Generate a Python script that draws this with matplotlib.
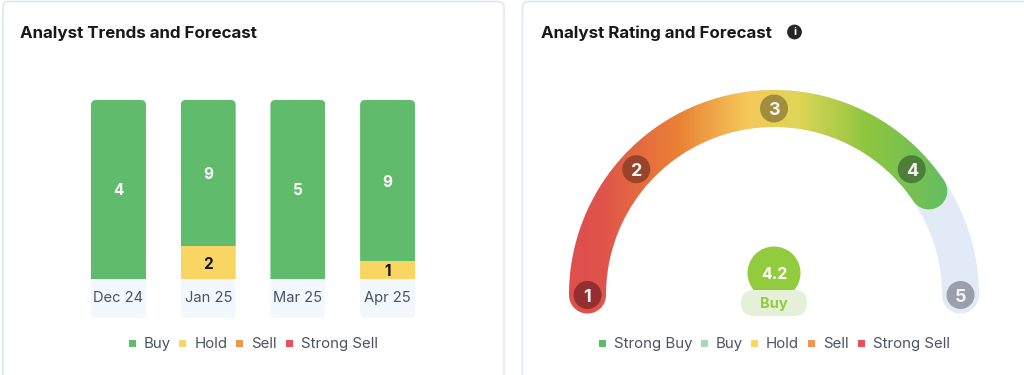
import matplotlib

matplotlib.use("Agg")
import matplotlib.pyplot as plt
import numpy as np
from matplotlib.colors import LinearSegmentedColormap
from matplotlib.patches import Circle, FancyBboxPatch, PathPatch, Rectangle
from matplotlib.path import Path

plt.rcParams["font.family"] = ["Inter", "DejaVu Sans"]

# trends panel
months = ["Dec 24", "Jan 25", "Mar 25", "Apr 25"]
buy = [4, 9, 5, 9]
hold = [0, 2, 0, 1]
trend_legend = ["Buy", "Hold", "Sell", "Strong Sell"]

# gauge panel
rating = 4.2
rating_label = "Buy"
rating_ticks = [1, 2, 3, 4, 5]
tick_angles = [180, 137.6, 90, 42.4, 0]
gauge_legend = ["Strong Buy", "Buy", "Hold", "Sell", "Strong Sell"]

GREEN = "#61bb6d"
YELLOW = "#f8d661"
TEXT = "#4a5263"
TITLE = "#16181d"
LEGEND_COLORS = {
    "Strong Buy": "#61bb6d",
    "Buy": "#a3dcb4",
    "Hold": "#f8d661",
    "Sell": "#f2964f",
    "Strong Sell": "#ec4f5c",
}
TREND_LEGEND_COLORS = ["#61bb6d", "#f8d661", "#f2964f", "#ec4f5c"]
TICK_COLORS = ["#942f2f", "#98432a", "#a28d3d", "#4f7e38", "#9a9fab"]

CX, CY, R, TRACK = 774, 295, 186.5, 18.5


def gauge_angle(v):
    return np.interp(v, rating_ticks, tick_angles)


def polar(r, deg):
    a = np.radians(deg)
    return CX + r * np.cos(a), CY - r * np.sin(a)


def arc_path(a0, a1):
    """Thick arc with round caps, from angle a0 down to a1 (degrees)."""
    n = 200
    ang = np.linspace(a0, a1, n)
    outer = np.column_stack(polar(R + TRACK, ang))
    ca, sa = polar(R, a1)
    cap = np.radians(np.linspace(a1, a1 - 180, 30))
    end = np.column_stack([ca + TRACK * np.cos(cap), sa - TRACK * np.sin(cap)])
    inner = np.column_stack(polar(R - TRACK, ang[::-1]))
    ca, sa = polar(R, a0)
    cap = np.radians(np.linspace(a0 + 180, a0, 30))
    start = np.column_stack([ca + TRACK * np.cos(cap), sa - TRACK * np.sin(cap)])
    return Path(np.vstack([outer, end, inner, start, outer[:1]]))


def gradient_arc(cmap, a_end, x0, x1, y0, y1):
    """RGBA image of the filled arc, alpha from distance so the edge stays smooth."""
    gx, gy = np.meshgrid(np.arange(x0, x1) + 0.5, np.arange(y0, y1) + 0.5)
    dx, dy = gx - CX, CY - gy
    ang = np.degrees(np.arctan2(dy, dx))
    ex0, ey0 = polar(R, 180)
    ex1, ey1 = polar(R, a_end)
    d = np.minimum(np.hypot(gx - ex0, gy - ey0), np.hypot(gx - ex1, gy - ey1))
    on_arc = (ang >= a_end) & (ang <= 180)
    d[on_arc] = np.abs(np.hypot(dx, dy) - R)[on_arc]
    rgba = cmap((gx - x0) / (x1 - x0))
    rgba[..., 3] = np.clip(TRACK + 0.5 - d, 0, 1)
    return rgba


fig = plt.figure(figsize=(10.24, 3.75), dpi=100)
px = fig.add_axes([0, 0, 1, 1])
px.set_xlim(0, 1024)
px.set_ylim(375, 0)
px.axis("off")

# cards run off the bottom and right edge of the crop
for x0, x1 in [(3, 504), (522.5, 1040)]:
    px.add_patch(
        FancyBboxPatch(
            (x0, 1.5),
            x1 - x0,
            380,
            boxstyle="round,pad=0,rounding_size=6",
            fc="white",
            ec="#dde7f5",
            lw=1.2,
        )
    )

px.text(20, 38, "Analyst Trends and Forecast", fontsize=12.2, fontweight="bold",
        color=TITLE, va="baseline")
px.text(541, 38, "Analyst Rating and Forecast", fontsize=12.2, fontweight="bold",
        color=TITLE, va="baseline")
px.add_patch(Circle((794.5, 32), 7.4, fc="#23262b", ec="none"))
px.text(794.5, 32, "i", fontsize=8, fontweight="bold", color="white",
        ha="center", va="center")

# stacked 100% bars, axes run from the bar tops to the bottom of the label boxes
bars_ax = fig.add_axes([73.6 / 1024, 1 - 318 / 375, 359 / 1024, 218 / 375])
bars_ax.patch.set_alpha(0)
x = np.arange(len(months))
bar_w = 0.613
label_h = 21.8
bars_ax.set_xlim(-0.5, 3.5)
bars_ax.set_ylim(-label_h, 100)
for s in bars_ax.spines.values():
    s.set_visible(False)
bars_ax.set_yticks([])
bars_ax.set_xticks(x)
bars_ax.set_xticklabels(months, fontsize=10.6, color=TEXT)
bars_ax.tick_params(axis="x", length=0, pad=-19.7)

total = np.array(buy) + np.array(hold)
hold_pct = np.array(hold) / total * 100
buy_pct = np.array(buy) / total * 100
boxes = bars_ax.bar(x, [label_h] * 4, bar_w, bottom=-label_h, color="#f3f7fe")
hold_bars = bars_ax.bar(x, hold_pct, bar_w, color=YELLOW)
buy_bars = bars_ax.bar(x, buy_pct, bar_w, bottom=hold_pct, color=GREEN)

for i in x:
    xc = 118.5 + i * 89.7
    clip = FancyBboxPatch(
        (xc - 27.5, 100),
        55,
        218,
        boxstyle="round,pad=0,rounding_size=5",
        transform=px.transData,
    )
    for b in (boxes[i], hold_bars[i], buy_bars[i]):
        b.set_clip_path(clip)
    bars_ax.text(i, hold_pct[i] + buy_pct[i] / 2, str(buy[i]), color="white",
                 fontsize=11, fontweight="bold", ha="center", va="center_baseline")
    if hold[i]:
        bars_ax.text(i, hold_pct[i] / 2, str(hold[i]), color="#111111",
                     fontsize=11, fontweight="bold", ha="center", va="center_baseline")

# gauge track and gradient fill
px.add_patch(PathPatch(arc_path(180, 0), fc="#e3eaf7", ec="none"))
cmap = LinearSegmentedColormap.from_list(
    "gauge",
    [
        (0.00, "#df4f4f"),
        (0.08, "#df524b"),
        (0.29, "#ea8235"),
        (0.47, "#f6c95a"),
        (0.60, "#dfd557"),
        (0.78, "#8ec63f"),
        (1.00, "#62bd64"),
    ],
)
px.imshow(
    gradient_arc(cmap, gauge_angle(rating), 568, 952, 85, 320),
    extent=(568, 952, 320, 85),
    aspect="auto",
    interpolation="nearest",
    zorder=2,
)
px.set_xlim(0, 1024)
px.set_ylim(375, 0)

for v, c in zip(rating_ticks, TICK_COLORS):
    mx, my = polar(R, gauge_angle(v))
    px.add_patch(Circle((mx, my), 14, fc=c, ec="none", zorder=3))
    px.text(mx, my, str(v), color="#f4f4f4", fontsize=13, fontweight="bold",
            ha="center", va="center_baseline", zorder=4)

# rating badge
px.add_patch(Circle((774, 273), 26.5, fc="#93cb3f", ec="none", zorder=3))
px.add_patch(
    FancyBboxPatch((741, 290), 66, 26, boxstyle="round,pad=0,rounding_size=13",
                   fc="#e4f0d8", ec="none", zorder=4)
)
px.text(774, 273, f"{rating}", color="white", fontsize=11.5, fontweight="bold",
        ha="center", va="center_baseline", zorder=5)
px.text(774, 308, rating_label, color="#93cb3f", fontsize=10.5, fontweight="bold",
        ha="center", va="baseline", zorder=5)


def legend(labels, colors, square_x, label_x):
    for lab, c, sx, lx in zip(labels, colors, square_x, label_x):
        px.add_patch(Rectangle((sx - 3.5, 339.5), 7, 7, fc=c, ec="none"))
        px.text(lx, 348, lab, fontsize=10.8, color=TEXT, va="baseline")


legend(trend_legend, TREND_LEGEND_COLORS, [132, 182, 239, 289], [144, 195, 251, 301])
legend(gauge_legend, [LEGEND_COLORS[k] for k in gauge_legend],
       [602, 704, 754, 811, 861], [614, 716, 766, 823, 873])

fig.savefig("out.png", dpi=100)
